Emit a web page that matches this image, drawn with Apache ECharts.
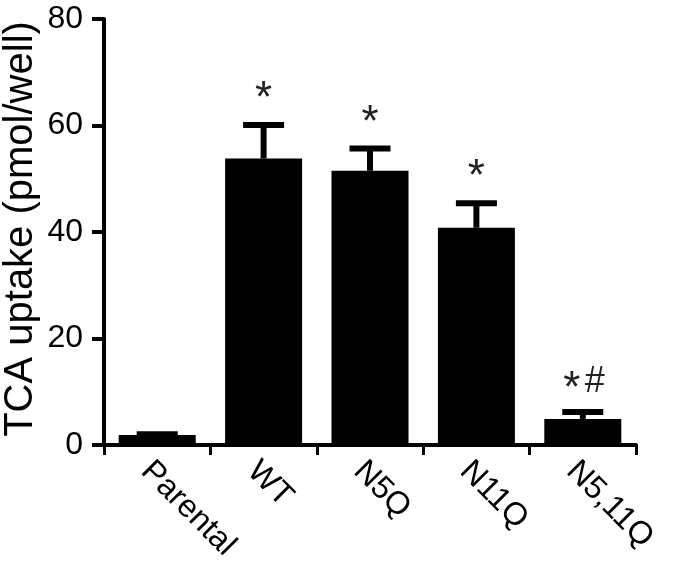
<!DOCTYPE html>
<html>
<head>
<meta charset="utf-8">
<script src="https://cdn.jsdelivr.net/npm/echarts@6/dist/echarts.min.js"></script>
<style>
  html, body { margin: 0; padding: 0; background: #fff; }
  #chart { width: 673px; height: 566px; }
</style>
</head>
<body>
<div id="chart"></div>
<script>
// Data
var categories = ['Parental', 'WT', 'N5Q', 'N11Q', 'N5,11Q'];
var meanValues = [1.9, 53.8, 51.5, 40.8, 4.9];
var errorValues = [0.1, 6.3, 4.2, 4.6, 1.3];
var significance = ['', '*', '*', '*', '*#'];
var yTicks = { min: 0, max: 80, interval: 20 };
var yAxisTitle = 'TCA uptake (pmol/well)';

var FONT = '"Liberation Sans", Arial, Helvetica, sans-serif';

var errorData = categories.map(function (c, i) {
  return [i, meanValues[i], meanValues[i] + errorValues[i]];
});

var chart = echarts.init(document.getElementById('chart'), null, { renderer: 'canvas' });

chart.setOption({
  animation: false,
  backgroundColor: '#ffffff',
  grid: { left: 104, right: 37, top: 19, bottom: 121, containLabel: false, outerBoundsMode: 'none' },
  xAxis: {
    type: 'category',
    data: categories,
    axisLine: { show: true, lineStyle: { color: '#000', width: 4 } },
    axisTick: { show: true, length: 10, lineStyle: { color: '#000', width: 3 } },
    axisLabel: {
      rotate: -45, fontSize: 32, color: '#000', margin: 10,
      fontFamily: FONT, interval: 0, align: 'left', verticalAlign: 'top'
    },
    splitLine: { show: false }
  },
  yAxis: {
    type: 'value',
    min: yTicks.min, max: yTicks.max, interval: yTicks.interval,
    name: yAxisTitle,
    nameLocation: 'middle',
    nameGap: 63,
    nameMoveOverlap: false,
    nameTextStyle: { fontSize: 40, color: '#000', fontFamily: FONT, padding: [0, 0, 0, 6] },
    axisLine: { show: true, lineStyle: { color: '#000', width: 4 } },
    axisTick: { show: true, length: 12, lineStyle: { color: '#000', width: 4 } },
    axisLabel: { fontSize: 32, color: '#000', margin: 21, fontFamily: FONT },
    splitLine: { show: false }
  },
  series: [
    {
      type: 'bar',
      data: meanValues,
      barWidth: 77,
      itemStyle: { color: '#000' },
      z: 2
    },
    {
      type: 'custom',
      data: errorData,
      z: 3,
      renderItem: function (params, api) {
        var x = api.value(0);
        var mean = api.value(1);
        var top = api.value(2);
        var label = significance[params.dataIndex];
        var p0 = api.coord([x, mean]);
        var p1 = api.coord([x, top]);
        var capHalf = 20.5;
        var children = [
          { type: 'line', shape: { x1: p0[0], y1: p0[1], x2: p1[0], y2: p1[1] },
            style: { stroke: '#000', lineWidth: 6 } },
          { type: 'line', shape: { x1: p1[0] - capHalf, y1: p1[1], x2: p1[0] + capHalf, y2: p1[1] },
            style: { stroke: '#000', lineWidth: 6 } }
        ];
        if (label === '*') {
          children.push({ type: 'text', style: { text: '*', x: p1[0], y: p1[1] - 25,
            textAlign: 'center', textVerticalAlign: 'middle',
            font: '44px ' + FONT, fill: '#222' } });
        } else if (label === '*#') {
          children.push({ type: 'text', style: { text: '*', x: p1[0] - 11, y: p1[1] - 22,
            textAlign: 'center', textVerticalAlign: 'middle',
            font: '44px ' + FONT, fill: '#222' } });
          children.push({ type: 'text', style: { text: '#', x: p1[0] + 12, y: p1[1] - 30,
            textAlign: 'center', textVerticalAlign: 'middle',
            font: '36px ' + FONT, fill: '#222' } });
        }
        return { type: 'group', children: children };
      }
    }
  ]
});
</script>
</body>
</html>
